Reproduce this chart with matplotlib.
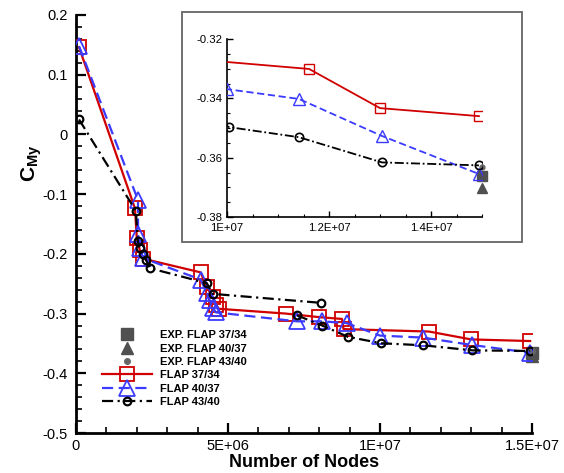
import matplotlib
matplotlib.use("Agg")
import matplotlib.pyplot as plt
import numpy as np
from matplotlib.patches import Rectangle
from matplotlib.ticker import FixedLocator, MultipleLocator, FixedFormatter

plt.rcParams['font.family'] = ['Liberation Sans', 'DejaVu Sans']
plt.rcParams['mathtext.fontset'] = 'custom'
plt.rcParams['mathtext.rm'] = 'Liberation Sans'
plt.rcParams['mathtext.bf'] = 'Liberation Sans:bold'
plt.rcParams['mathtext.it'] = 'Liberation Sans:italic'

# ---- grid-convergence data: pitching moment vs. number of nodes ----
nan = np.nan
red_x = [0.1e6, 1.94e6, 2.0e6, 2.1e6, 2.2e6, 4.1e6, 4.3e6, 4.5e6, 4.6e6, 4.7e6,
         6.9e6, 8.0e6, 8.75e6, 8.8e6, 11.61e6, 13.0e6, 14.94e6]
red_y = [0.146, -0.124, -0.174, -0.194, -0.208, -0.231, -0.256, -0.272, -0.285, -0.292,
         -0.300, -0.306, -0.309, -0.326, -0.3301, -0.3433, -0.346]

blue_x = [0.1e6, 2.04e6, 2.04e6, 2.1e6, 2.2e6, 4.1e6, 4.3e6, 4.4e6, 4.5e6, 4.6e6,
          7.27e6, 8.1e6, 8.9e6, 10.0e6, 11.41e6, 13.04e6, 14.94e6]
blue_y = [0.148, -0.110, -0.166, -0.190, -0.207, -0.243, -0.265, -0.278, -0.290, -0.298,
          -0.313, -0.313, -0.316, -0.3369, -0.3402, -0.3527, -0.3655]

black_x = [0.1e6, 1.97e6, 2.03e6, 2.1e6, 2.2e6, 2.3e6, 2.43e6, 4.3e6, 4.5e6, 8.05e6,
           nan, 7.27e6, 8.1e6, 8.95e6, 10.04e6, 11.41e6, 13.04e6, 14.94e6]
black_y = [0.025, -0.128, -0.178, -0.191, -0.200, -0.210, -0.224, -0.249, -0.267, -0.282,
           nan, -0.303, -0.320, -0.339, -0.3497, -0.3531, -0.3616, -0.3626]

exp_x = [1.5e7]
exp_37_34 = [-0.3662]
exp_40_37 = [-0.3703]
exp_43_40 = [-0.3630]

labels = ['EXP. FLAP 37/34', 'EXP. FLAP 40/37', 'EXP. FLAP 43/40',
          'FLAP 37/34', 'FLAP 40/37', 'FLAP 43/40']

main_xticks = [0, 5e6, 1e7, 1.5e7]
main_xticklabels = ['0', '5E+06', '1E+07', '1.5E+07']
main_yticks = [-0.5, -0.4, -0.3, -0.2, -0.1, 0.0, 0.1, 0.2]
main_yticklabels = ['-0.5', '-0.4', '-0.3', '-0.2', '-0.1', '0', '0.1', '0.2']

inset_xticks = [1e7, 1.2e7, 1.4e7]
inset_xticklabels = ['1E+07', '1.2E+07', '1.4E+07']
inset_yticks = [-0.38, -0.36, -0.34, -0.32]
inset_yticklabels = ['-0.38', '-0.36', '-0.34', '-0.32']

RED = '#d00000'
BLUE = '#3b3bff'
GRAY = '#505050'

W, H = 564, 473
fig = plt.figure(figsize=(W / 100, H / 100), dpi=100)

def fax(l, t, r, b):
    return [l / W, 1 - b / H, (r - l) / W, (b - t) / H]

ax = fig.add_axes(fax(76, 15, 532, 433))


def draw_series(a, ms_sq, ms_tri, ms_circ, lw, mew, blue_dash, black_dash, exp_ms):
    h_e1, = a.plot(exp_x, exp_37_34, ls='none', marker='s', ms=exp_ms, color=GRAY,
                   mec=GRAY, zorder=2, clip_on=False)
    h_e2, = a.plot(exp_x, exp_40_37, ls='none', marker='^', ms=exp_ms * 1.1, color=GRAY,
                   mec=GRAY, zorder=2, clip_on=False)
    h_e3, = a.plot(exp_x, exp_43_40, ls='none', marker='o', ms=exp_ms * 0.5, color='#666666',
                   mec='#666666', zorder=2, clip_on=False)
    h_r, = a.plot(red_x, red_y, color=RED, lw=lw, marker='s', ms=ms_sq, mfc='none',
                  mec=RED, mew=mew, zorder=3)
    h_b, = a.plot(blue_x, blue_y, color=BLUE, lw=lw, marker='^', ms=ms_tri, mfc='none',
                  mec=BLUE, mew=mew, zorder=4)
    h_b.set_dashes(blue_dash)
    h_k, = a.plot(black_x, black_y, color='black', lw=lw, marker='o', ms=ms_circ,
                  mfc='none', mec='black', mew=mew * 1.2, zorder=5)
    h_k.set_dashes(black_dash)
    return [h_e1, h_e2, h_e3, h_r, h_b, h_k]


handles = draw_series(ax, 10, 11, 5.5, 1.6, 1.3, (5, 2.5), (5, 2, 1, 2), 8)

ax.set_xlim(0, 1.5e7)
ax.set_ylim(-0.5, 0.2)
for s in ('top', 'right'):
    ax.spines[s].set_visible(False)
for s in ('left', 'bottom'):
    ax.spines[s].set_linewidth(2.0)
ax.xaxis.set_major_locator(FixedLocator(main_xticks))
ax.xaxis.set_major_formatter(FixedFormatter(main_xticklabels))
ax.xaxis.set_minor_locator(MultipleLocator(1e6))
ax.yaxis.set_major_locator(FixedLocator(main_yticks))
ax.yaxis.set_major_formatter(FixedFormatter(main_yticklabels))
ax.yaxis.set_minor_locator(MultipleLocator(0.02))
ax.tick_params(which='major', direction='in', length=7.5, width=1.6, labelsize=10.5,
               pad=6)
ax.tick_params(which='minor', direction='in', length=4.5, width=1.2)
ax.tick_params(axis='x', which='major', pad=4)

ax.set_xlabel('Number of Nodes', fontsize=13, fontweight='bold', labelpad=1)
ax.set_ylabel(r'$\mathbf{C}_{\mathbf{My}}$', fontsize=15)
ax.yaxis.set_label_coords(-0.07, 0.646)

leg = ax.legend(handles, labels, loc='upper left', bbox_to_anchor=(0.057, 0.246),
                frameon=False, borderpad=0, borderaxespad=0, handlelength=4.5,
                handletextpad=0.75, labelspacing=0.3,
                prop={'family': 'Liberation Sans', 'weight': 'bold', 'size': 8})

# inset frame
frame = Rectangle((182 / W, 1 - 242 / H), (522 - 182) / W, (242 - 12) / H,
                  transform=fig.transFigure, facecolor='white', edgecolor='#666666',
                  lw=1.3, zorder=10)
fig.patches.append(frame)

axi = fig.add_axes(fax(227, 39, 482, 217))
axi.set_zorder(11)
axi.patch.set_alpha(0)
draw_series(axi, 7, 8, 6, 1.3, 1.0, (4, 2), (5, 1.5, 1, 1.5), 7)
axi.set_xlim(1e7, 1.5e7)
axi.set_ylim(-0.38, -0.32)
for s in ('top', 'right'):
    axi.spines[s].set_visible(False)
for s in ('left', 'bottom'):
    axi.spines[s].set_linewidth(1.2)
axi.xaxis.set_major_locator(FixedLocator(inset_xticks))
axi.xaxis.set_major_formatter(FixedFormatter(inset_xticklabels))
axi.xaxis.set_minor_locator(MultipleLocator(5e5))
axi.yaxis.set_major_locator(FixedLocator(inset_yticks))
axi.yaxis.set_major_formatter(FixedFormatter(inset_yticklabels))
axi.yaxis.set_minor_locator(MultipleLocator(0.005))
axi.tick_params(which='major', direction='in', length=4, width=1.0, labelsize=8.2, pad=3)
axi.tick_params(axis='x', which='major', pad=4.5)
axi.tick_params(which='minor', direction='in', length=2.3, width=0.8)

fig.savefig('out.png', dpi=100)
